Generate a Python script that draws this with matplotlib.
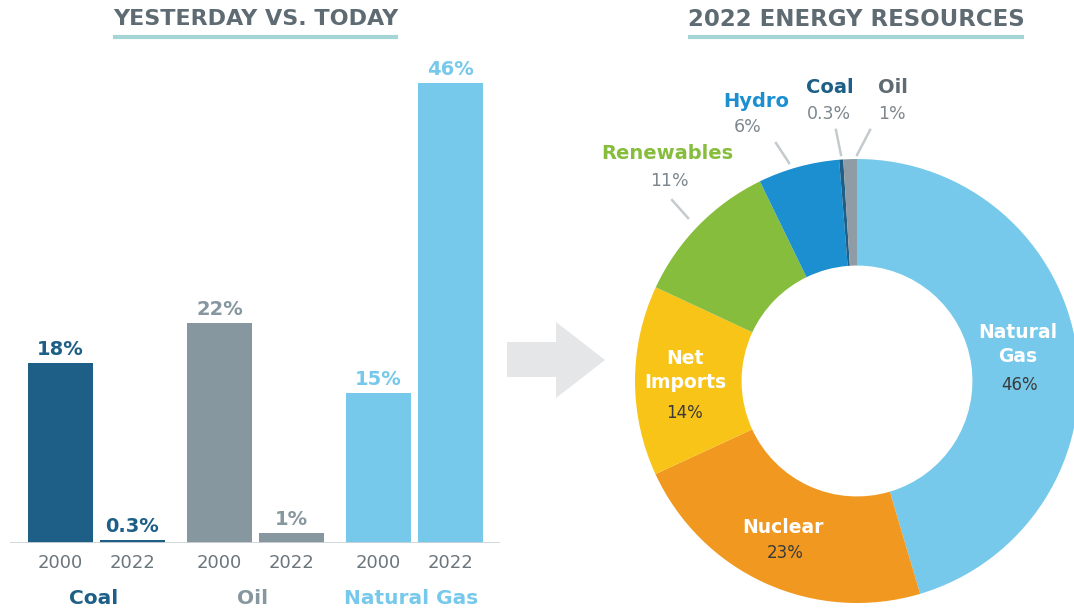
import numpy as np
import matplotlib
matplotlib.use("Agg")
import matplotlib.pyplot as plt
from matplotlib.patches import Polygon

plt.rcParams['font.family'] = ['DejaVu Sans']

#%% Data
fuels = ["Coal", "Oil", "Natural Gas"]
years = ["2000", "2022"]
share_2000 = [18, 22, 15]
share_2022 = [0.3, 1, 46]
share_labels_2000 = ["18%", "22%", "15%"]
share_labels_2022 = ["0.3%", "1%", "46%"]

pie_names = ["Natural\nGas", "Nuclear", "Net\nImports", "Renewables", "Hydro", "Coal", "Oil"]
pie_values = [46, 23, 14, 11, 6, 0.3, 1]
pie_labels = ["46%", "23%", "14%", "11%", "6%", "0.3%", "1%"]

#%% Colours
fuel_colors = ["#1d5f86", "#86979f", "#76c9ea"]
pie_colors = ["#76c9ea", "#f0981f", "#f8c417", "#86bd3c", "#1b8fd0", "#1d5f86", "#8f9ca5"]
title_col = "#5f6b73"
line_col = "#a6d5d5"
tick_col = "#6b757c"

W, H = 1074, 610
fig = plt.figure(figsize=(W / 100, H / 100), dpi=100)

#%% Overlay for titles and arrow (pixel coords)
ov = fig.add_axes([0, 0, 1, 1], zorder=0)
ov.set_xlim(0, W)
ov.set_ylim(H, 0)
ov.axis("off")
ov.text(256, 19, "YESTERDAY VS. TODAY", ha="center", va="center",
        fontsize=16, fontweight="bold", color=title_col)
ov.plot([113, 398], [37, 37], color=line_col, lw=3, solid_capstyle="butt")
ov.text(856, 19, "2022 ENERGY RESOURCES", ha="center", va="center",
        fontsize=16.5, fontweight="bold", color=title_col)
ov.plot([688, 1024], [37, 37], color=line_col, lw=3, solid_capstyle="butt")
arrow = [(507, 342), (556, 342), (556, 322), (605, 360),
         (556, 398), (556, 377), (507, 377)]
ov.add_patch(Polygon(arrow, closed=True, color="#e4e6e8", lw=0))

#%% Bar chart
ax = fig.add_axes([10 / W, 67 / H, 490 / W, 500 / H], zorder=1)
ax.set_xlim(0, 490)
ax.set_ylim(0, 50)
grp = np.arange(len(fuels))
centers = 86.5 + 159 * grp
x_old = centers - 36
x_new = centers + 36
ax.bar(x_old, share_2000, width=65, color=fuel_colors)
ax.bar(x_new, share_2022, width=65, color=fuel_colors)
ax.axhline(0, color="#cfd3d6", lw=2)

for i in grp:
    ax.annotate(share_labels_2000[i], (x_old[i], share_2000[i]), xytext=(0, 3),
                textcoords="offset points", ha="center", va="bottom",
                fontsize=14, fontweight="bold", color=fuel_colors[i])
    ax.annotate(share_labels_2022[i], (x_new[i], share_2022[i]), xytext=(0, 3),
                textcoords="offset points", ha="center", va="bottom",
                fontsize=14, fontweight="bold", color=fuel_colors[i])
    ax.text(centers[i] - 3, -5.5, fuels[i], ha="center", va="center",
            fontsize=14.5, fontweight="bold", color=fuel_colors[i])

ax.set_xticks(np.concatenate([x_old, x_new]))
ax.set_xticklabels([years[0]] * 3 + [years[1]] * 3, fontsize=13, color=tick_col)
ax.tick_params(axis="x", length=0, pad=8)
ax.set_yticks([])
for s in ax.spines.values():
    s.set_visible(False)
ax.patch.set_alpha(0)

#%% Donut
cx, cy, r = 857, 381, 222
ax2 = fig.add_axes([(cx - r) / W, (H - cy - r) / H, 2 * r / W, 2 * r / H], zorder=1)
wedges, _ = ax2.pie(pie_values, colors=pie_colors, startangle=90, counterclock=False,
                    radius=1, wedgeprops=dict(width=0.48, edgecolor="none"))
ax2.set_xlim(-1, 1)
ax2.set_ylim(-1, 1)

# inside labels: name pos, pct pos
in_pos = {
    0: ((0.725, 0.164), (0.734, -0.018)),
    1: ((-0.333, -0.658), (-0.324, -0.775)),
    2: ((-0.775, 0.047), (-0.775, -0.144)),
}
for i, (npos, ppos) in in_pos.items():
    ax2.text(*npos, pie_names[i], ha="center", va="center", fontsize=13.5,
             fontweight="bold", color="white", linespacing=1.3)
    ax2.text(*ppos, pie_labels[i], ha="center", va="center", fontsize=12,
             color="#3a3a3a")

# outside labels (name pos, pct pos, leader line)
out_pos = {
    3: ((-0.856, 1.027), (-0.847, 0.901), [(-0.761, 0.734), (-0.833, 0.815)]),
    4: ((-0.455, 1.261), (-0.491, 1.144), [(-0.306, 0.982), (-0.365, 1.072)]),
    5: ((-0.122, 1.320), (-0.126, 1.203), [(-0.072, 1.018), (-0.095, 1.131)]),
    6: ((0.162, 1.324), (0.158, 1.203), [(0.0, 1.018), (0.059, 1.131)]),
}
for i, (npos, ppos, seg) in out_pos.items():
    name_col = pie_colors[i] if i != 6 else title_col
    ax2.text(*npos, pie_names[i], ha="center", va="center", fontsize=14,
             fontweight="bold", color=name_col)
    ax2.text(*ppos, pie_labels[i], ha="center", va="center", fontsize=12.5,
             color="#7d878d")
    ax2.plot([seg[0][0], seg[1][0]], [seg[0][1], seg[1][1]], color="#c5cacd",
             lw=1.8, clip_on=False)

fig.savefig("out.png", dpi=100)
